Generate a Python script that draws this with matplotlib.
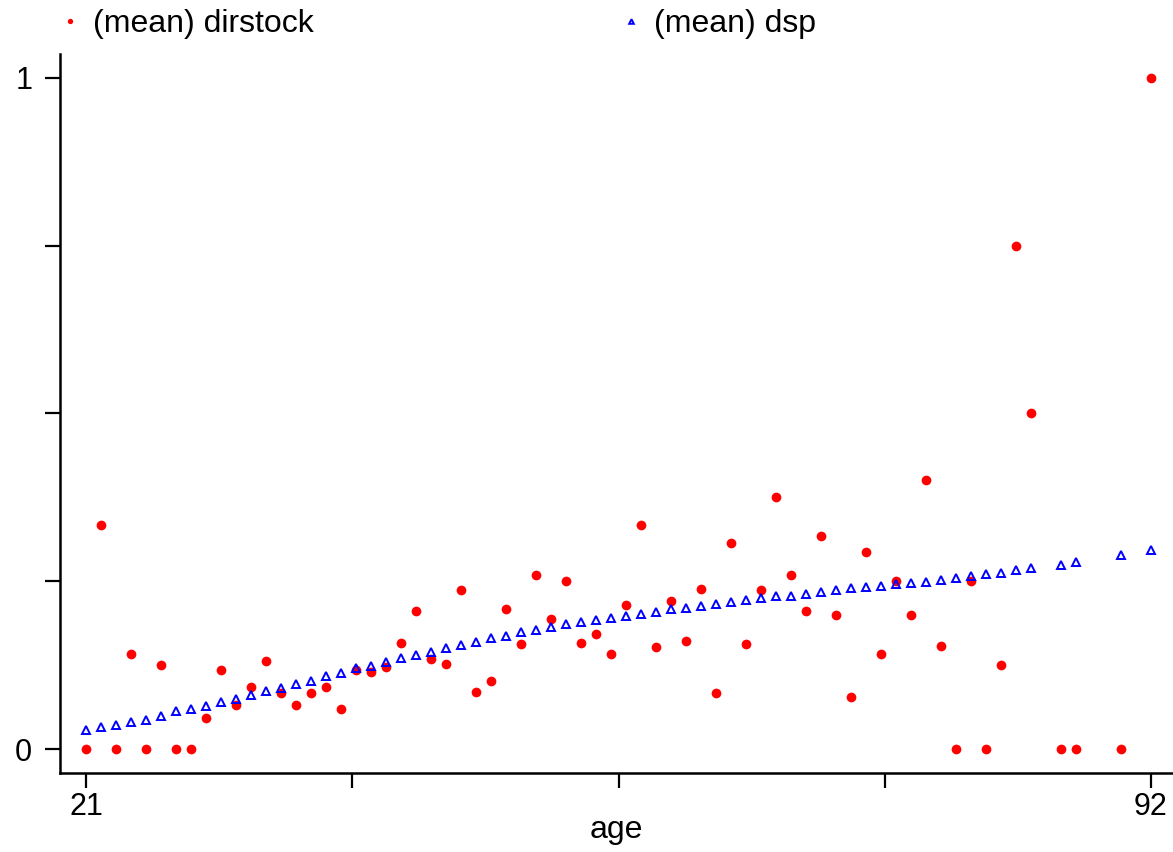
import numpy as np
import matplotlib
matplotlib.use("Agg")
import matplotlib.pyplot as plt

plt.rcParams['font.family'] = ['Liberation Sans', 'DejaVu Sans']

# age groups present in the data
age = [21, 22, 23, 24, 25, 26, 27, 28, 29, 30,
       31, 32, 33, 34, 35, 36, 37, 38, 39, 40,
       41, 42, 43, 44, 45, 46, 47, 48, 49, 50,
       51, 52, 53, 54, 55, 56, 57, 58, 59, 60,
       61, 62, 63, 64, 65, 66, 67, 68, 69, 70,
       71, 72, 73, 74, 75, 76, 77, 78, 79, 80,
       81, 82, 83, 84, 86, 87, 90, 92]

# (mean) dirstock by age
dirstock = [0.000, 0.333, 0.000, 0.142, 0.000, 0.125, 0.000, 0.000, 0.046, 0.117,
            0.066, 0.093, 0.131, 0.083, 0.065, 0.084, 0.092, 0.059, 0.117, 0.114,
            0.122, 0.158, 0.206, 0.134, 0.126, 0.237, 0.085, 0.101, 0.209, 0.156,
            0.259, 0.194, 0.250, 0.158, 0.171, 0.142, 0.215, 0.333, 0.152, 0.221,
            0.161, 0.238, 0.084, 0.307, 0.156, 0.237, 0.375, 0.259, 0.206, 0.318,
            0.200, 0.077, 0.293, 0.142, 0.250, 0.200, 0.400, 0.154, 0.000, 0.250,
            0.000, 0.125, 0.750, 0.500, 0.000, 0.000, 0.000, 1.000]

# (mean) dsp by age
dsp = [0.028, 0.033, 0.036, 0.040, 0.043, 0.049, 0.056, 0.060, 0.064, 0.070,
       0.075, 0.081, 0.086, 0.091, 0.097, 0.102, 0.109, 0.113, 0.120, 0.124,
       0.130, 0.136, 0.140, 0.144, 0.150, 0.155, 0.159, 0.165, 0.168, 0.174,
       0.177, 0.181, 0.186, 0.189, 0.192, 0.195, 0.198, 0.201, 0.204, 0.209,
       0.210, 0.213, 0.216, 0.219, 0.222, 0.225, 0.228, 0.228, 0.231, 0.234,
       0.237, 0.240, 0.241, 0.243, 0.246, 0.247, 0.249, 0.252, 0.255, 0.257,
       0.260, 0.262, 0.266, 0.269, 0.274, 0.278, 0.289, 0.296]

xticks = np.linspace(21, 92, 5)
xticklabels = ['21', '', '', '', '92']
yticks = [0, 0.25, 0.5, 0.75, 1]
yticklabels = ['0', '', '', '', '1']

fig = plt.figure(figsize=(11.73, 8.52), dpi=100)
ax = fig.add_axes([60 / 1173, 1 - 772.7 / 852, 1 - 60 / 1173, (772.7 - 54) / 852])

red_pts, = ax.plot(age, dirstock, 'o', color='#ff0000', markersize=7,
                   markeredgewidth=0, label='(mean) dirstock')
blue_pts, = ax.plot(age, dsp, '^', color='#0000ff', markerfacecolor='none',
                    markersize=6, markeredgewidth=1.4, label='(mean) dsp')

ax.set_xlim(21 - 26 / 15, 92 + 22 / 15)
ax.set_ylim(-0.0353, 1.0353)
ax.set_xticks(xticks)
ax.set_xticklabels(xticklabels)
ax.set_yticks(yticks)
ax.set_yticklabels(yticklabels)
ax.tick_params(axis='both', direction='out', length=11, width=1.6, labelsize=22)
ax.tick_params(axis='x', pad=3)
ax.tick_params(axis='y', pad=9)
ax.set_xlabel('age', fontsize=23, labelpad=-5)

for side in ['top', 'right']:
    ax.spines[side].set_visible(False)
for side in ['left', 'bottom']:
    ax.spines[side].set_linewidth(1.8)

fig.legend(handles=[red_pts, blue_pts], loc='upper left',
           bbox_to_anchor=(41 / 1173, 1.008), ncol=2, frameon=False,
           fontsize=23, markerscale=0.55, handlelength=0.8,
           handletextpad=0.32, columnspacing=9.55, borderaxespad=0.1)

fig.savefig('out.png', dpi=100)
